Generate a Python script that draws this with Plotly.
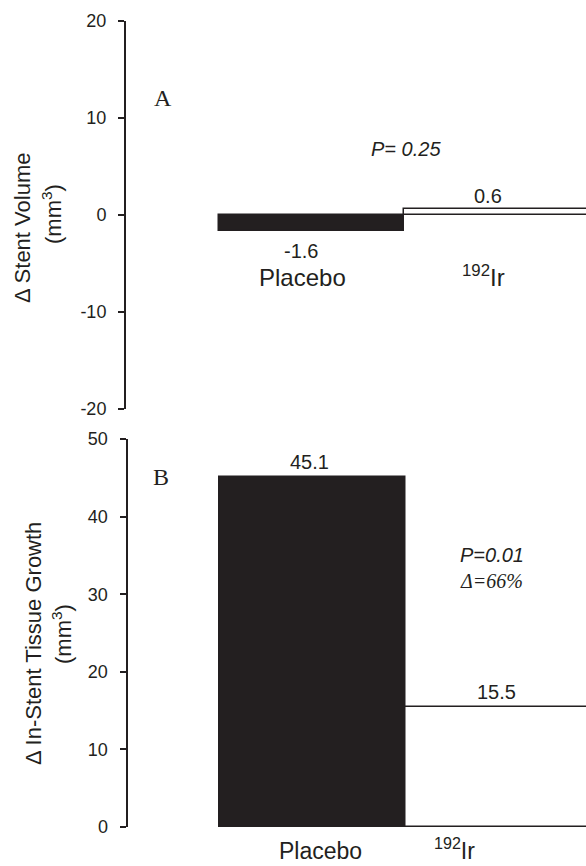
import plotly.graph_objects as go

# ---- data ----
categories = ["Placebo", "<sup>192</sup>Ir"]
stent_volume = [-1.6, 0.6]          # panel A, mm^3
tissue_growth = [45.1, 15.5]        # panel B, mm^3
yticks_a = [-20, -10, 0, 10, 20]
yticks_b = [0, 10, 20, 30, 40, 50]
p_text_a = "P= 0.25"
p_text_b = "P=0.01"
delta_text_b = "Δ=66%"

INK = "#231f20"
SANS = "Liberation Sans, Arial, Helvetica, sans-serif"
xpos = [0, 1]
fills = [INK, "white"]

fig = go.Figure()
fig.add_trace(go.Bar(x=xpos, y=stent_volume, width=1, marker=dict(color=fills, line=dict(color=INK, width=1.5)),
                     xaxis="x", yaxis="y", cliponaxis=False, hoverinfo="skip", showlegend=False))
fig.add_trace(go.Bar(x=xpos, y=tissue_growth, width=1, marker=dict(color=fills, line=dict(color=INK, width=1.5)),
                     xaxis="x2", yaxis="y2", cliponaxis=False, hoverinfo="skip", showlegend=False))

yax_common = dict(showgrid=False, zeroline=False, showline=True, linecolor=INK, linewidth=2,
                  ticks="outside", ticklen=6, tickwidth=1.5, tickcolor=INK, automargin=False,
                  tickfont=dict(family=SANS, size=18, color=INK), ticklabelstandoff=8, fixedrange=True)
xax_common = dict(visible=False, showgrid=False, zeroline=False, fixedrange=True, automargin=False)

fig.update_layout(
    template="none",
    width=586, height=866, margin=dict(l=0, r=0, t=0, b=0, pad=0),
    paper_bgcolor="white", plot_bgcolor="white", bargap=0,
    xaxis=dict(domain=[126 / 586, 1], range=[-1.0, 1.48], anchor="y", **xax_common),
    yaxis=dict(domain=[1 - 409 / 866, 1 - 21 / 866], range=[-20, 20], tickvals=yticks_a,
               ticktext=[str(v) for v in yticks_a], anchor="x", **yax_common),
    xaxis2=dict(domain=[127.5 / 586, 1], range=[-0.997, 1.468], anchor="y2", **xax_common),
    yaxis2=dict(domain=[1 - 827 / 866, 1 - 439 / 866], range=[0, 50], tickvals=yticks_b,
                ticktext=[str(v) for v in yticks_b], anchor="x2", **yax_common),
)

ann = []
def A(text, x, y, xref, yref, size, family=SANS, **kw):
    d = dict(text=text, x=x, y=y, xref=xref, yref=yref, showarrow=False,
             font=dict(family=family, size=size, color=INK))
    d.update(kw)
    ann.append(d)

# Panel A value labels
A(f"{stent_volume[0]:.1f}", 0, stent_volume[0], "x", "y", 20, yanchor="top", yshift=-7, xshift=-10)
A(f"{stent_volume[1]:.1f}", 1, stent_volume[1], "x", "y", 20, yanchor="bottom", yshift=0, xshift=-9)
# Panel A categories
A(categories[0], 0, -8.0, "x", "y", 24, yanchor="bottom", xshift=-9)
A(categories[1], 1, -8.0, "x", "y", 24, yanchor="bottom", xshift=-13)
# Panel A p value
A("<i>" + p_text_a + "</i>", 0.51, 6.8, "x", "y", 20, yanchor="middle")
# Panel letter A
A("A", -0.8, 12.06, "x", "y", 24, family="Liberation Serif, Times New Roman, serif", yanchor="middle")

# Panel B value labels
A(f"{tissue_growth[0]:.1f}", 0, tissue_growth[0], "x2", "y2", 20, yanchor="bottom", yshift=2, xshift=-3)
A(f"{tissue_growth[1]:.1f}", 1, tissue_growth[1], "x2", "y2", 20, yanchor="bottom", yshift=2, xshift=-2)
# Panel B categories (below the axis, placed in paper space)
A(categories[0], 320 / 586, 1 - 851 / 866, "paper", "paper", 23, yanchor="middle")
A(categories[1], 477 / 586, 1 - 849 / 866, "paper", "paper", 23, yanchor="middle")
# Panel B p value and delta
A("<i>" + p_text_b + "</i>", 0.779, 35.1, "x2", "y2", 20, xanchor="left", yanchor="middle")
A("<i>" + delta_text_b + "</i>", 0.779, 31.7, "x2", "y2", 20, family="Liberation Serif, Times New Roman, serif",
  xanchor="left", yanchor="middle")
# Panel letter B
A("B", -0.815, 45.1, "x2", "y2", 24, family="Liberation Serif, Times New Roman, serif", yanchor="middle")

# Axis titles (rotated)
A("Δ Stent Volume", 22 / 586, 1 - 228 / 866, "paper", "paper", 22, textangle=-90, xanchor="center", yanchor="middle")
A("(mm<sup>3</sup>)", 52 / 586, 1 - 214 / 866, "paper", "paper", 22, textangle=-90, xanchor="center", yanchor="middle")
A("Δ In-Stent Tissue Growth", 33 / 586, 1 - 644 / 866, "paper", "paper", 22, textangle=-90, xanchor="center", yanchor="middle")
A("(mm<sup>3</sup>)", 62 / 586, 1 - 634 / 866, "paper", "paper", 22, textangle=-90, xanchor="center", yanchor="middle")

fig.update_layout(annotations=ann)
fig.write_html("out.html")
